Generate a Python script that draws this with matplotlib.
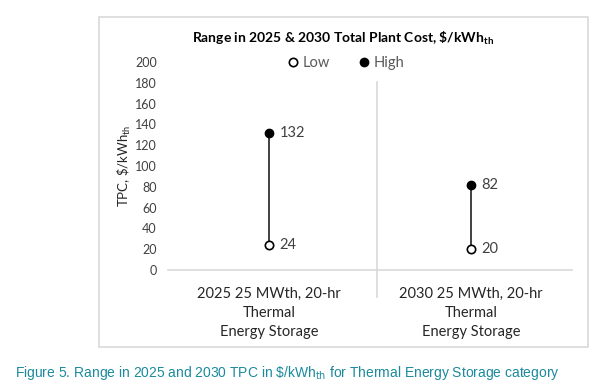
import matplotlib
matplotlib.use("Agg")
import matplotlib.pyplot as plt
from matplotlib.lines import Line2D
from matplotlib.patches import Rectangle

# data
categories = ["2025 25 MWth, 20-hr\nThermal\nEnergy Storage",
              "2030 25 MWth, 20-hr\nThermal\nEnergy Storage"]
low_values = [24, 20]
high_values = [132, 82]
y_ticks = [0, 20, 40, 60, 80, 100, 120, 140, 160, 180, 200]

plt.rcParams['font.family'] = ['Lato', 'DejaVu Sans']
plt.rcParams['mathtext.fontset'] = 'custom'
plt.rcParams['mathtext.rm'] = 'Lato'
plt.rcParams['mathtext.it'] = 'Lato:italic'
plt.rcParams['mathtext.bf'] = 'Lato:bold'

txt = '#404040'
fig = plt.figure(figsize=(6.02, 3.84), dpi=100)
ax = fig.add_axes([168 / 602, 1 - 270 / 384, 404 / 602, 208 / 384])

# chart box
fig.patches.append(Rectangle((99 / 602, 1 - 347 / 384), 489 / 602, 330 / 384,
                             transform=fig.transFigure, fill=False,
                             edgecolor='#d9d9d9', linewidth=1.2))

xs = list(range(len(categories)))
ax.vlines(xs, low_values, high_values, color='#404040', linewidth=1.4, zorder=2)
ax.plot(xs, low_values, 'o', markersize=6, markerfacecolor='white',
        markeredgecolor='black', markeredgewidth=1.2, label='Low', zorder=3)
ax.plot(xs, high_values, 'o', markersize=6, color='black', label='High', zorder=3)

for x, lo, hi in zip(xs, low_values, high_values):
    ax.annotate(str(hi), (x, hi), xytext=(7.5, 0), textcoords='offset points',
                va='center', ha='left', fontsize=10.5, color=txt)
    ax.annotate(str(lo), (x, lo), xytext=(7.5, 0), textcoords='offset points',
                va='center', ha='left', fontsize=10.5, color=txt)

ax.set_xlim(-0.5, 1.5)
ax.set_ylim(0, 200)
ax.set_yticks(y_ticks)
ax.tick_params(axis='y', length=0, labelsize=9, labelcolor=txt, pad=8)
ax.set_xticks(xs)
ax.set_xticklabels(categories, fontsize=10.5, color='#262626', linespacing=1.45)
ax.tick_params(axis='x', length=0, pad=12)
for s in ['top', 'right', 'left']:
    ax.spines[s].set_visible(False)
ax.spines['bottom'].set_color('#d9d9d9')
ax.spines['bottom'].set_linewidth(1.2)

# category divider
ax.add_line(Line2D([0.535, 0.535], [181, -26], color='#d9d9d9', linewidth=1.2,
                   clip_on=False))

ax.set_ylabel(r'TPC, \$/kWh$_{\mathrm{th}}$', fontsize=9.5, color='#262626')
ax.yaxis.set_label_coords(-0.087, 0.5)

fig.text(343 / 602, 1 - 38 / 384,
         r'Range in 2025 & 2030 Total Plant Cost, \$/kWh$_{\mathbf{th}}$',
         ha='center', va='center', fontsize=10, fontweight='bold', color='black')

leg = ax.legend(loc='center', bbox_to_anchor=(345 / 602, 1 - 63 / 384),
                bbox_transform=fig.transFigure, ncol=2, frameon=False,
                fontsize=10.5, handletextpad=0.2, columnspacing=1.8,
                handlelength=1.0)
for t in leg.get_texts():
    t.set_color('#595959')

fig.text(15 / 602, 1 - 373 / 384,
         r'Figure 5. Range in 2025 and 2030 TPC in \$/kWh$_{\mathrm{th}}$ for Thermal Energy Storage category',
         ha='left', va='center', fontsize=10, color='#1a8a9c',
         family='Liberation Sans', math_fontfamily='dejavusans')

fig.savefig('out.png', dpi=100)
